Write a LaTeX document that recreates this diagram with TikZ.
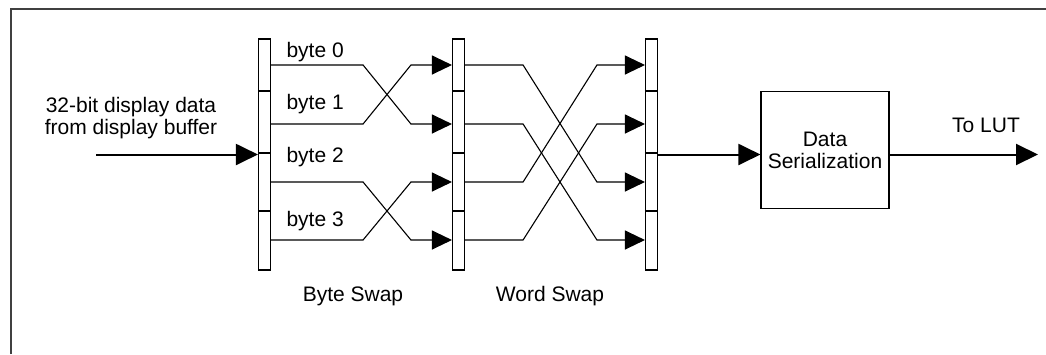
\documentclass[tikz,border=0pt]{standalone}
\usepackage{fontspec}
\setmainfont{Liberation Sans}
\usetikzlibrary{arrows.meta}

\begin{document}
\begin{tikzpicture}[x=1pt,y=-1pt,
            line width=1.1pt,
            every node/.style = {inner sep=0pt, font=\fontsize{21}{22}\selectfont},
            bar/.style = {draw, minimum width=12pt, minimum height=231pt},
            serbox/.style = {draw, minimum width=128pt, minimum height=117pt, align=center},
            arr/.style = {-{Triangle[length=20pt,width=19pt]}},
            bigarr/.style = {-{Triangle[length=22pt,width=21pt]}, line width=2pt}]
            \useasboundingbox (0,0) rectangle (1046,354);
            % Frame
            \draw[black!75, line width=2pt] (10.5,354) |- (1046,8.5);
            % Bars
            \node[bar] (B1) at (264.5,154.5) {};
            \node[bar] (B2) at (458.5,154.5) {};
            \node[bar] (B3) at (651.5,154.5) {};
            \foreach \b in {B1,B2,B3}
                \foreach \y in {91,153,211}
                    \draw (\b.west |- 0,\y) -- (\b.east |- 0,\y);
            % Ports
            \foreach \i/\y in {0/65,1/124,2/182,3/240} {
                \coordinate (a\i) at (B1.east |- 0,\y);
                \coordinate (b\i) at (B2.west |- 0,\y);
                \coordinate (c\i) at (B2.east |- 0,\y);
                \coordinate (d\i) at (B3.west |- 0,\y);
            }
            % Byte labels
            \node[anchor=west] at (286,52) {byte 0};
            \node[anchor=west] at (286,104) {byte 1};
            \node[anchor=west] at (286,157) {byte 2};
            \node[anchor=west] at (286,221) {byte 3};
            % Byte swap
            \foreach \s/\t in {0/1,1/0,2/3,3/2}
                \draw[arr] (a\s) -- ++(92,0) -- ([xshift=-41pt]b\t) -- (b\t);
            % Word swap
            \foreach \s/\t in {0/2,1/3,2/0,3/1}
                \draw[arr] (c\s) -- ++(58,0) -- ([xshift=-48pt]d\t) -- (d\t);
            % Input
            \node[align=center] (inlbl) at (131,118) {32-bit display data\\from display buffer};
            \coordinate (in) at (96,154.5);
            \draw[bigarr] (in) -- (B1.west);
            % Serialization
            \node[serbox] (ser) at (825,150) {Data\\Serialization};
            \draw[bigarr] (B3.east) -- (B3.east -| ser.west);
            \coordinate (out) at (1038,154.5);
            \draw[bigarr] (ser.east |- out) -- (out);
            \node (lut) at (986,125) {To LUT};
            % Captions
            \node (bsw) at (353,296) {Byte Swap};
            \node (wsw) at (550,296) {Word Swap};
        \end{tikzpicture}
\end{document}
